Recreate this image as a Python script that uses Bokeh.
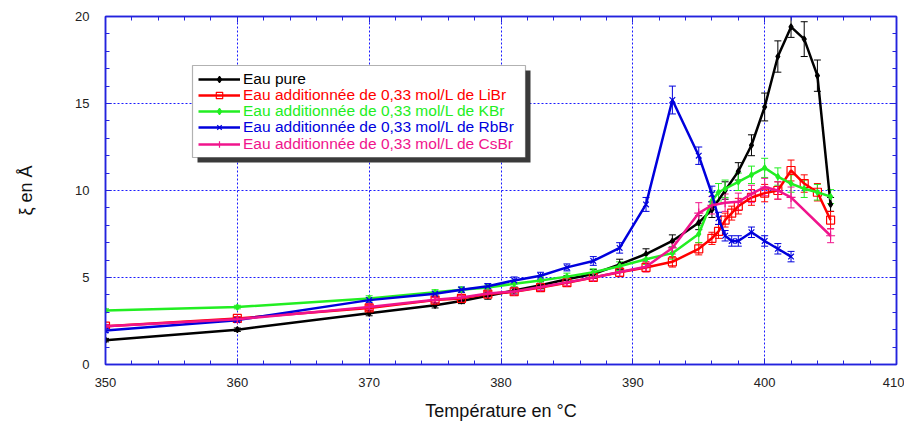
from bokeh.plotting import figure
from bokeh.models import (ColumnDataSource, Whisker, TeeHead, LinearAxis, SingleIntervalTicker,
                          Legend, LegendItem, BoxAnnotation, Range1d)
from bokeh.embed import file_html
from bokeh.resources import INLINE

# ---------------- data ----------------
T_eau = [350, 360, 370, 375, 377, 379, 381, 383, 385, 387, 389, 391, 393, 395, 396, 397, 398, 399, 400, 401, 402, 403, 404, 405]
xi_eau = [1.4, 2.0, 2.95, 3.4, 3.65, 3.95, 4.25, 4.55, 4.9, 5.2, 5.75, 6.35, 7.1, 8.15, 8.9, 10.0, 11.1, 12.6, 14.8, 17.7, 19.4, 18.7, 16.6, 9.2]
err_eau = [0.1, 0.1, 0.15, 0.15, 0.15, 0.2, 0.2, 0.2, 0.2, 0.25, 0.3, 0.3, 0.35, 0.4, 0.45, 0.5, 0.5, 0.6, 0.8, 0.9, 0.6, 1.0, 0.9, 0.4]

T_libr = [350, 360, 370, 375, 377, 379, 381, 383, 385, 387, 389, 391, 393, 395, 396, 396.5, 397, 397.5, 398, 399, 400, 401, 402, 403, 404, 405]
xi_libr = [2.2, 2.65, 3.25, 3.7, 3.8, 4.05, 4.18, 4.42, 4.7, 5.0, 5.3, 5.58, 5.9, 6.65, 7.25, 7.65, 8.3, 8.7, 9.1, 9.6, 9.85, 10.0, 11.15, 10.4, 9.9, 8.3]
err_libr = [0.1, 0.1, 0.15, 0.15, 0.15, 0.15, 0.2, 0.2, 0.2, 0.2, 0.25, 0.25, 0.3, 0.35, 0.35, 0.4, 0.4, 0.4, 0.45, 0.45, 0.5, 0.5, 0.6, 0.5, 0.5, 0.5]

T_kbr = [350, 360, 370, 375, 377, 379, 381, 383, 385, 387, 389, 391, 393, 395, 396, 396.5, 397, 398, 399, 400, 401, 402, 403, 404, 405]
xi_kbr = [3.1, 3.3, 3.8, 4.15, 4.3, 4.42, 4.64, 4.83, 5.05, 5.3, 5.65, 6.05, 6.4, 7.5, 9.4, 9.9, 10.1, 10.5, 10.9, 11.3, 10.8, 10.4, 10.1, 9.9, 9.65]
err_kbr = [0.1, 0.1, 0.15, 0.15, 0.15, 0.15, 0.2, 0.2, 0.2, 0.2, 0.25, 0.3, 0.35, 0.5, 0.5, 0.5, 0.5, 0.5, 0.5, 0.55, 0.5, 0.5, 0.5, 0.45, 0.4]

T_rbbr = [350, 360, 370, 375, 377, 379, 381, 383, 385, 387, 389, 391, 393, 395, 396, 396.5, 397, 397.5, 398, 399, 400, 401, 402]
xi_rbbr = [1.95, 2.55, 3.7, 4.06, 4.3, 4.5, 4.83, 5.1, 5.58, 5.95, 6.7, 9.2, 15.2, 12.0, 9.8, 8.4, 7.4, 7.1, 7.1, 7.6, 7.1, 6.65, 6.2]
err_rbbr = [0.1, 0.1, 0.15, 0.15, 0.15, 0.15, 0.2, 0.2, 0.2, 0.25, 0.3, 0.4, 0.8, 0.5, 0.45, 0.35, 0.3, 0.3, 0.3, 0.3, 0.3, 0.3, 0.3]

T_csbr = [350, 360, 370, 375, 377, 379, 381, 383, 385, 387, 389, 391, 393, 395, 396, 397, 398, 399, 400, 401, 402, 405]
xi_csbr = [2.2, 2.6, 3.3, 3.72, 3.85, 4.08, 4.2, 4.45, 4.72, 5.0, 5.32, 5.62, 6.7, 8.7, 9.15, 9.3, 9.35, 9.8, 10.2, 10.0, 9.6, 7.4]
err_csbr = [0.1, 0.1, 0.15, 0.15, 0.15, 0.15, 0.2, 0.2, 0.2, 0.2, 0.25, 0.3, 0.35, 0.6, 0.5, 0.5, 0.5, 0.5, 0.5, 0.5, 0.6, 0.4]

labels = ["Eau pure",
          "Eau additionnée de 0,33 mol/L de LiBr",
          "Eau additionnée de 0,33 mol/L de KBr",
          "Eau additionnée de 0,33 mol/L de RbBr",
          "Eau additionnée de 0,33 mol/L de CsBr"]

x_title = "Température en °C"
y_title = "ξ en Å"

# ---------------- styling ----------------
AX = "#2323dd"
FONT = "Liberation Sans"
colors = ["#000000", "#ff0000", "#22ee22", "#0000dd", "#f0148c"]
markers = ["diamond", "square", "diamond", "x", "cross"]
msizes = [6, 8, 6, 8, 9]
mfill = [True, False, True, False, False]

p = figure(frame_width=791, frame_height=348, x_range=Range1d(350, 410), y_range=Range1d(0, 20),
           output_backend="svg", toolbar_location=None,
           min_border_left=105, min_border_top=16, min_border_right=8, min_border_bottom=55,
           background_fill_color="white", border_fill_color="white")

p.outline_line_color = AX
p.outline_line_width = 1.5

xt = SingleIntervalTicker(interval=10, num_minor_ticks=5)
yt = SingleIntervalTicker(interval=5, num_minor_ticks=5)
p.xaxis.ticker = xt
p.yaxis.ticker = yt

for ax in (p.xaxis[0], p.yaxis[0]):
    ax.axis_line_color = AX
    ax.axis_line_width = 1.5
    ax.major_tick_line_color = AX
    ax.minor_tick_line_color = AX
    ax.major_tick_in = 6
    ax.major_tick_out = 0
    ax.minor_tick_in = 4
    ax.minor_tick_out = 0
    ax.major_label_text_font = FONT
    ax.major_label_text_font_size = "13px"
    ax.major_label_text_color = "#222222"
    ax.axis_label_text_font = FONT
    ax.axis_label_text_font_size = "18px"
    ax.axis_label_text_font_style = "normal"
    ax.axis_label_text_color = "#111111"

p.xaxis.axis_label = x_title
p.yaxis.axis_label = y_title
p.xaxis.major_label_standoff = 13
p.xaxis.axis_label_standoff = 11
p.yaxis.major_label_standoff = 16
p.yaxis.axis_label_standoff = 36

# mirrored tick axes on top and right (no labels)
for loc, tk in (("above", xt), ("right", yt)):
    a = LinearAxis(ticker=tk, axis_line_color=AX, axis_line_width=1.5,
                   major_tick_line_color=AX, minor_tick_line_color=AX,
                   major_tick_in=6, major_tick_out=0, minor_tick_in=4, minor_tick_out=0,
                   major_label_text_font_size="1px", major_label_text_color=None,
                   major_label_standoff=0)
    p.add_layout(a, loc)

p.xgrid.grid_line_color = "#1a1aff"
p.ygrid.grid_line_color = "#1a1aff"
p.xgrid.grid_line_dash = "2 2"
p.ygrid.grid_line_dash = "2 2"
p.xgrid.grid_line_width = 1
p.ygrid.grid_line_width = 1

series = [(T_eau, xi_eau, err_eau), (T_libr, xi_libr, err_libr), (T_kbr, xi_kbr, err_kbr),
          (T_rbbr, xi_rbbr, err_rbbr), (T_csbr, xi_csbr, err_csbr)]

items = []
for i, (T, xi, er) in enumerate(series):
    c = colors[i]
    src = ColumnDataSource(dict(x=T, y=xi,
                                upper=[v + e for v, e in zip(xi, er)],
                                lower=[v - e for v, e in zip(xi, er)]))
    w = Whisker(source=src, base="x", upper="upper", lower="lower", line_color=c, line_width=1,
                upper_head=TeeHead(size=7, line_color=c, line_width=1),
                lower_head=TeeHead(size=7, line_color=c, line_width=1))
    p.add_layout(w)
    lr = p.line("x", "y", source=src, line_color=c, line_width=2.5)
    sr = p.scatter("x", "y", source=src, marker=markers[i], size=msizes[i], line_color=c,
                   fill_color=c if mfill[i] else None, line_width=1.2)
    items.append(LegendItem(label=labels[i], renderers=[lr, sr]))

# legend frame with shadow (screen units, relative to the plot frame)
shadow = BoxAnnotation(left=92, right=425, bottom=202, top=294,
                       left_units="screen", right_units="screen", bottom_units="screen", top_units="screen",
                       fill_color="#3a3a3a", fill_alpha=1, line_color=None)
box = BoxAnnotation(left=87, right=420, bottom=207, top=299,
                    left_units="screen", right_units="screen", bottom_units="screen", top_units="screen",
                    fill_color="white", fill_alpha=1, line_color="#000000", line_width=1.2)
p.add_layout(shadow)
p.add_layout(box)

for i, it in enumerate(items):
    lg = Legend(items=[it], location=(93, 276.5 - 16.25 * i), padding=0, margin=0, spacing=0,
                border_line_color=None, background_fill_alpha=0,
                glyph_width=42, glyph_height=16, label_height=16, label_standoff=3,
                label_text_font=FONT, label_text_font_size="15.5px", label_text_color=colors[i],
                label_text_baseline="middle")
    p.add_layout(lg, "center")

open("out.html", "w").write(file_html(p, INLINE))
